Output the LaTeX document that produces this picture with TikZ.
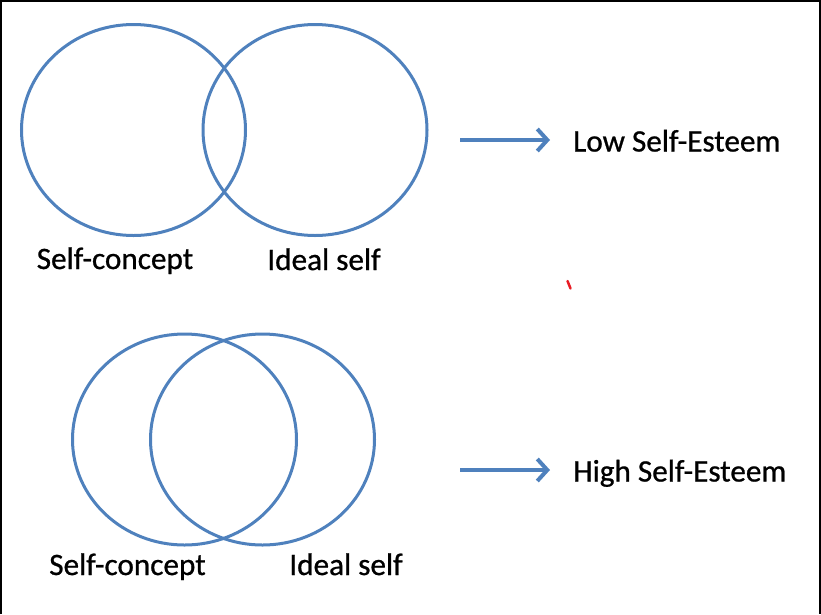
\documentclass[tikz,border=0pt]{standalone}
\usepackage{fontspec}
\setmainfont{Carlito}[FakeBold=0.8]
\usetikzlibrary{positioning, shapes.geometric, arrows.meta}
\definecolor{vennblue}{RGB}{79,129,189}
\definecolor{markred}{RGB}{232,28,36}

\begin{document}
\begin{tikzpicture}[x=1pt, y=-1pt, font=\fontsize{31.2}{36}\selectfont,
venn/.style={ellipse, draw=vennblue, line width=3pt,
minimum width=224pt, minimum height=211pt},
label/.style={inner sep=0pt, anchor=base},
arrow/.style={-{Straight Barb[length=10pt, width=22pt, line width=4pt]},
draw=vennblue, line width=4pt},
frame/.style={draw=black, line width=1.6pt}
]
\useasboundingbox (0,0) rectangle (821,614);

% Frame
\draw[frame] (0.8,614) -- (0.8,0.8) -- (820,0.8) -- (820,614);

% Low self-esteem: little overlap
\node[venn] (concept1) at (133.5,130) {};
\node[venn] (ideal1) at (315,130) {};
\node[label] (conceptlbl1) at (115,269) {Self-concept};
\node[label] (ideallbl1) at (324,270) {Ideal self};

% High self-esteem: large overlap
\node[venn] (concept2) at (184.5,439.5) {};
\node[venn] (ideal2) at (262.5,439.5) {};
\node[label] (conceptlbl2) at (127.5,575) {Self-concept};
\node[label] (ideallbl2) at (346,575) {Ideal self};

% Results
\node[inner sep=0pt, anchor=base west] (low) at (573,151.5) {Low Self-Esteem};
\node[inner sep=0pt, anchor=base west] (high) at (573,481.5) {High Self-Esteem};

% Arrows
\coordinate (lowstart) at (460,140);
\coordinate (lowend) at (550,140);
\coordinate (highstart) at (460,470);
\coordinate (highend) at (550,470);
\draw[arrow] (lowstart) -- (lowend);
\draw[arrow] (highstart) -- (highend);

% Stray mark
\draw[markred, line width=2.5pt, line cap=round] (567.5,281) -- (570.5,288.5);

\end{tikzpicture}
\end{document}
